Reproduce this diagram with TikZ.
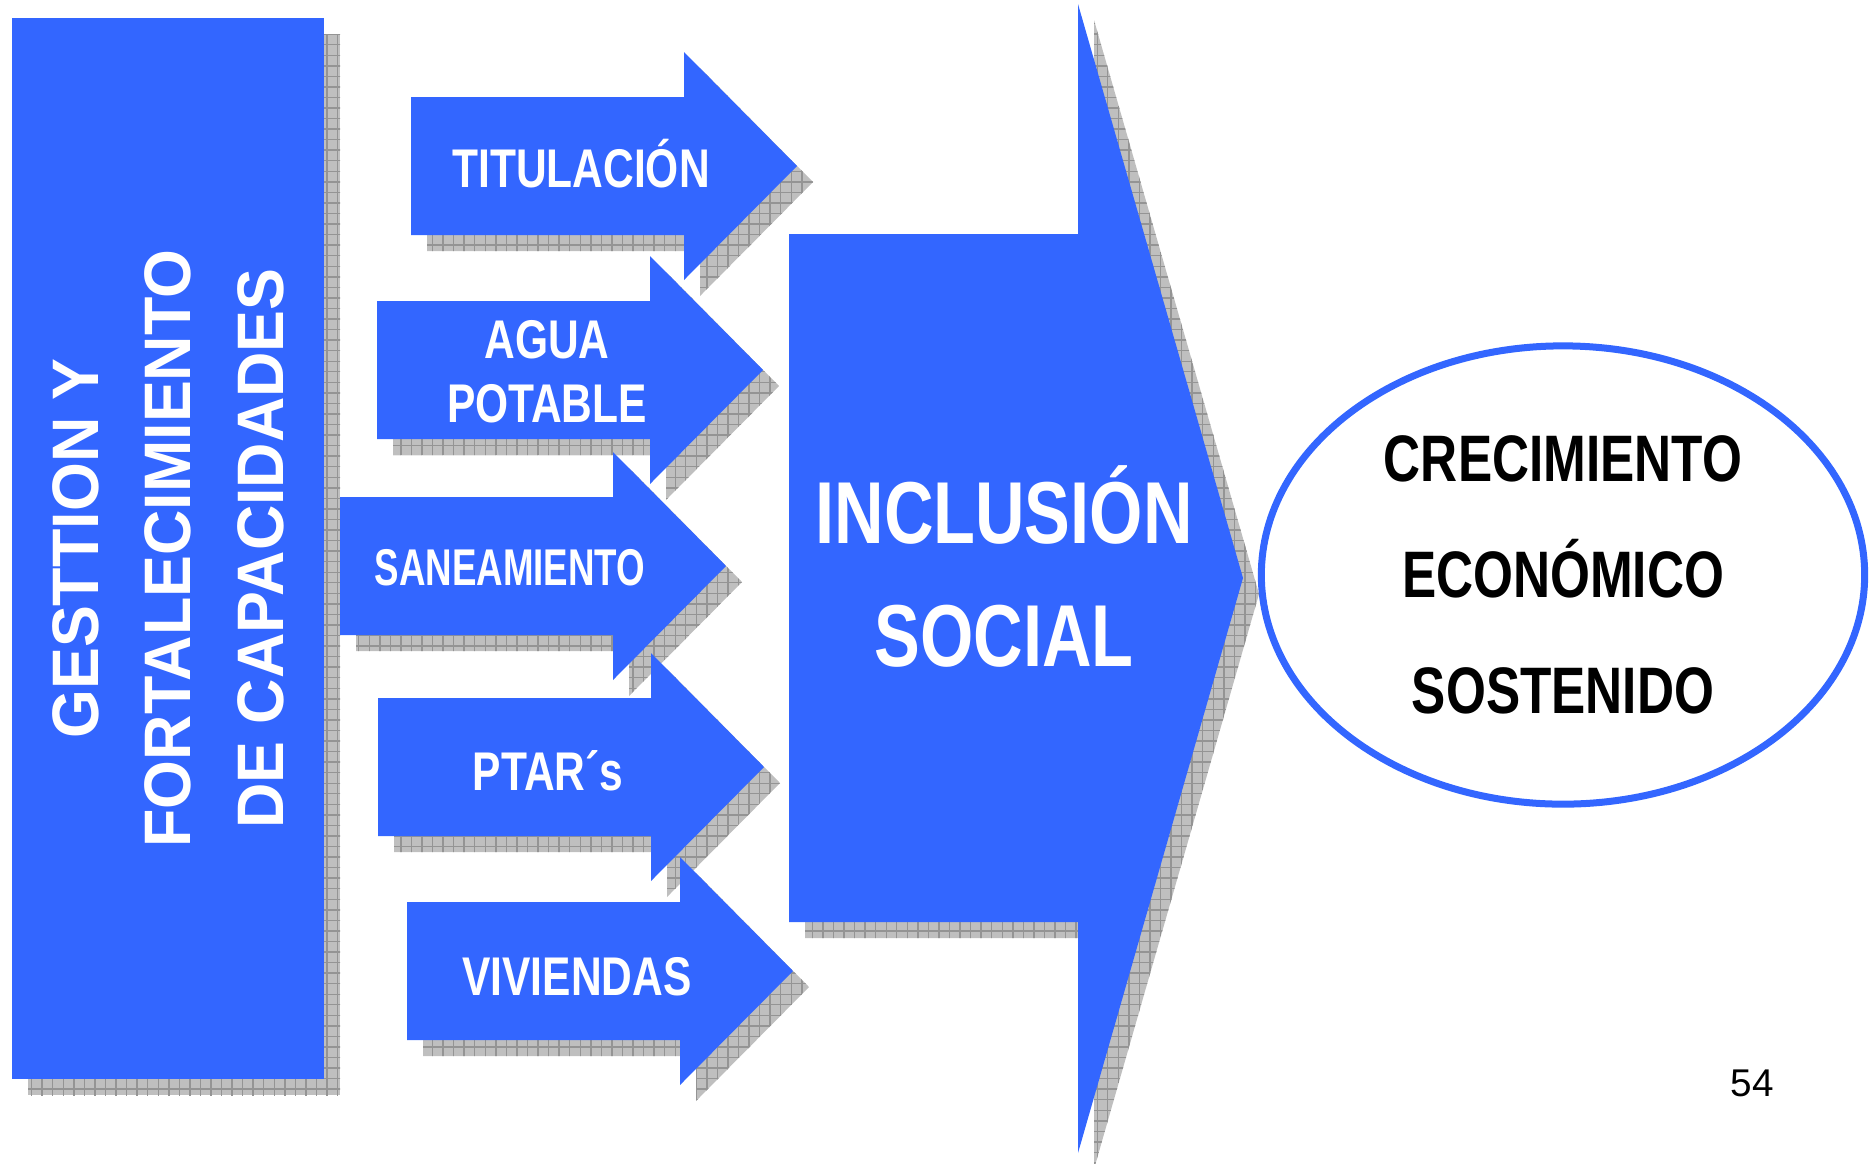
\documentclass[tikz,border=0pt]{standalone}
\usepackage{fontspec}
\setmainfont{Liberation Sans}
\newfontfamily\angosta[FakeStretch=0.78]{Liberation Sans}
\newfontfamily\masangosta[FakeStretch=0.71]{Liberation Sans}
\newfontfamily\casinormal[FakeStretch=0.955]{Liberation Sans}
\usetikzlibrary{patterns,shapes.geometric}
\definecolor{azul}{RGB}{51,102,255}

\newcommand{\letraflecha}{\angosta\bfseries\fontsize{15.5}{18.2}\selectfont}
\newcommand{\letrasanea}{\masangosta\bfseries\fontsize{14.7}{18}\selectfont}

\tikzset{
  sombra/.style={fill=black!25, postaction={pattern=grid, pattern color=black!42}},
  bloque/.style={fill=azul},
  textoflecha/.style={text=white, align=center, inner sep=0pt},
}

\begin{document}
\begin{tikzpicture}[x=0.01cm,y=-0.01cm]
  \useasboundingbox (0,0) rectangle (1876,1163);

  % Bloque de la izquierda
  \fill[sombra] (28,34) rectangle (340,1095);
  \node[fill=azul, rotate=90, minimum width=10.61cm, minimum height=3.12cm, inner sep=0pt,
        text=white, align=center, font=\casinormal\bfseries\fontsize{18.7}{26.3}\selectfont]
        (gestion) at (168,548.5) {GESTTION Y\\FORTALECIMIENTO\\DE CAPACIDADES};

  % Flecha grande
  \foreach \capa/\desp in {sombra/16,bloque/0}
    \fill[\capa,shift={(\desp,\desp)}] (789,234) -- (1078,234) -- (1078,4) -- (1243,578)
      -- (1078,1153) -- (1078,922) -- (789,922) -- cycle;
  \node[textoflecha, font=\angosta\bfseries\fontsize{25}{35}\selectfont]
    (inclusion) at (1004,566) {INCLUSIÓN\\SOCIAL};

  % Flechas pequenas
  \foreach \nombre/\xa/\yc/\ya/\ancla/\letra/\texto in {
      titulacion/411/166/187/base/\letraflecha/TITULACIÓN,
      agua/377/370/372/center/\letraflecha/{AGUA\\POTABLE},
      saneamiento/340/566/585/base/\letrasanea/SANEAMIENTO,
      ptars/378/767/790/base/\letraflecha/PTAR´s,
      viviendas/407/971/995/base/\letraflecha/VIVIENDAS}
  {
    \foreach \capa/\desp in {sombra/16,bloque/0}
      \fill[\capa,shift={(\desp,\desp)}] (\xa,\yc-69) -- (\xa+273,\yc-69) -- (\xa+273,\yc-114)
        -- (\xa+386,\yc) -- (\xa+273,\yc+114) -- (\xa+273,\yc+69) -- (\xa,\yc+69) -- cycle;
    \node[textoflecha, anchor=\ancla, font=\letra] (\nombre) at (\xa+170,\ya) {\texto};
  }

  % Resultado
  \node[ellipse, draw=azul, line width=0.07cm, minimum width=6.03cm, minimum height=4.58cm,
        inner sep=0pt, align=center, font=\angosta\bfseries\fontsize{18.7}{32.9}\selectfont]
        (crecimiento) at (1563,575) {CRECIMIENTO\\ECONÓMICO\\SOSTENIDO};

  \node[anchor=base, font=\fontsize{11}{13}\selectfont] (pagina) at (1752,1096) {54};
\end{tikzpicture}
\end{document}
